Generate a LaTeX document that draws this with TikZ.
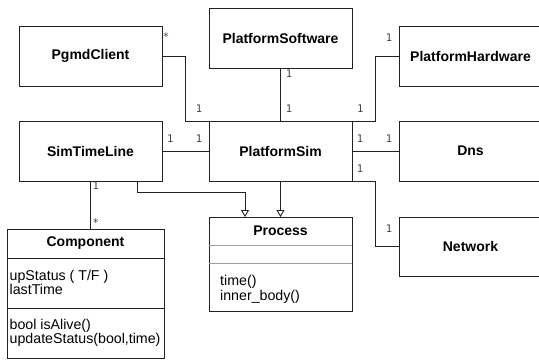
\documentclass[tikz,border=0pt]{standalone}
\usepackage{fontspec}
\setmainfont{Liberation Sans}
\newfontfamily\multfont{DejaVu Sans Mono}
\usetikzlibrary{positioning, arrows.meta}
\definecolor{umlline}{HTML}{222222}
\definecolor{umllabel}{HTML}{444444}
\definecolor{umldivider}{HTML}{9E9E9E}

\begin{document}
\begin{tikzpicture}[x=1pt, y=-1pt,
        box/.style={rectangle, draw=umlline, line width=0.9pt, minimum width=143pt, minimum height=60pt, inner sep=0pt, outer sep=0pt, font=\fontsize{14}{16}\selectfont\bfseries},
        part/.style={rectangle, draw=umlline, line width=0.9pt, minimum width=143pt, inner sep=0pt, outer sep=0pt},
        member/.style={anchor=north west, align=left, inner sep=0pt, font=\fontsize{14.2}{14}\selectfont},
        assoc/.style={draw=umlline, line width=0.9pt},
        inherit/.style={assoc, -{Triangle[open, length=7pt, width=8pt]}},
        mult/.style={text=umllabel, inner sep=0pt, font=\multfont\fontsize{10.5}{12}\selectfont}
    ]
    \useasboundingbox (0,0) rectangle (539,360);

    % Top row
    \node[box] (pgmd) at (90.5,56) {PgmdClient};
    \node[box] (psoft) at (280.5,38) {PlatformSoftware};
    \node[box] (phard) at (470.5,56) {PlatformHardware};

    % Middle row
    \node[box] (simtl) at (90.5,151) {SimTimeLine};
    \node[box] (psim) at (280.5,151) {PlatformSim};
    \node[box] (dns) at (470.5,151) {Dns};
    \node[box, minimum height=59pt] (net) at (470.5,246.5) {Network};

    % Component class
    \node[part, minimum width=157pt, minimum height=29pt, font=\fontsize{14}{16}\selectfont\bfseries] (comphead) at (85.5,243.5) {Component};
    \node[part, minimum width=157pt, minimum height=50pt, below=0pt of comphead] (compattr) {};
    \node[part, minimum width=157pt, minimum height=50pt, below=0pt of compattr] (compops) {};
    \node[member] (compattrtxt) at ([xshift=2.5pt, yshift=-12.5pt]compattr.north west) {upStatus ( T/F )\\lastTime};
    \node[member] (compopstxt) at ([xshift=2.5pt, yshift=-11.5pt]compops.north west) {bool isAlive()\\updateStatus(bool,time)};

    % Process class
    \node[part, minimum height=28pt, font=\fontsize{14}{16}\selectfont\bfseries] (prochead) at (280.5,231) {Process};
    \node[part, minimum height=18pt, below=0pt of prochead] (procattr) {};
    \node[part, minimum height=48pt, below=0pt of procattr] (procops) {};
    \draw[umldivider, line width=0.9pt] (procattr.north west) -- (procattr.north east);
    \draw[umldivider, line width=0.9pt] (procops.north west) -- (procops.north east);
    \node[member] (procopstxt) at ([xshift=11pt, yshift=-12.5pt]procops.north west) {time()\\[0.5pt]inner\_body()};

    % Associations
    \draw[assoc] (pgmd.east) -- ++(23,0) |- (psim.north west);
    \draw[assoc] (psoft.south) -- (psim.north);
    \draw[assoc] (phard.west) -- ++(-24,0) |- (psim.north east);
    \draw[assoc] (simtl.east) -- (psim.west);
    \draw[assoc] (psim.east) -- (dns.west);
    \draw[assoc] (psim.south east) -- ++(23,0) |- (net.west);
    \draw[assoc] (simtl.south) -- (simtl.south |- comphead.north);

    % Generalisations
    \draw[inherit] ([xshift=46.5pt]simtl.south) -- ++(0,11.5) -| ([xshift=-35.5pt]prochead.north);
    \draw[inherit] (psim.south) -- (prochead.north);

    % Multiplicities
    \node[mult] (m1) at ([shift={(4,-19)}]pgmd.east) {*};
    \node[mult] (m2) at ([shift={(-10,-12)}]psim.north west) {1};
    \node[mult] (m3) at ([shift={(8.5,5.3)}]psoft.south) {1};
    \node[mult] (m4) at ([shift={(8.5,-12)}]psim.north) {1};
    \node[mult] (m5) at ([shift={(-10,-18.7)}]phard.west) {1};
    \node[mult] (m6) at ([shift={(8.3,-12)}]psim.north east) {1};
    \node[mult] (m7) at ([shift={(8.3,-12.7)}]simtl.east) {1};
    \node[mult] (m8) at ([shift={(-10,-12.7)}]psim.west) {1};
    \node[mult] (m9) at ([shift={(8,-12.7)}]psim.east) {1};
    \node[mult] (m10) at ([shift={(-10,-12.7)}]dns.west) {1};
    \node[mult] (m11) at ([shift={(8,-12.7)}]psim.south east) {1};
    \node[mult] (m12) at ([shift={(-10,-18.2)}]net.west) {1};
    \node[mult] (m13) at ([shift={(5.2,5)}]simtl.south) {1};
    \node[mult] (m14) at ([shift={(5.2,-6)}]simtl.south |- comphead.north) {*};
\end{tikzpicture}
\end{document}
